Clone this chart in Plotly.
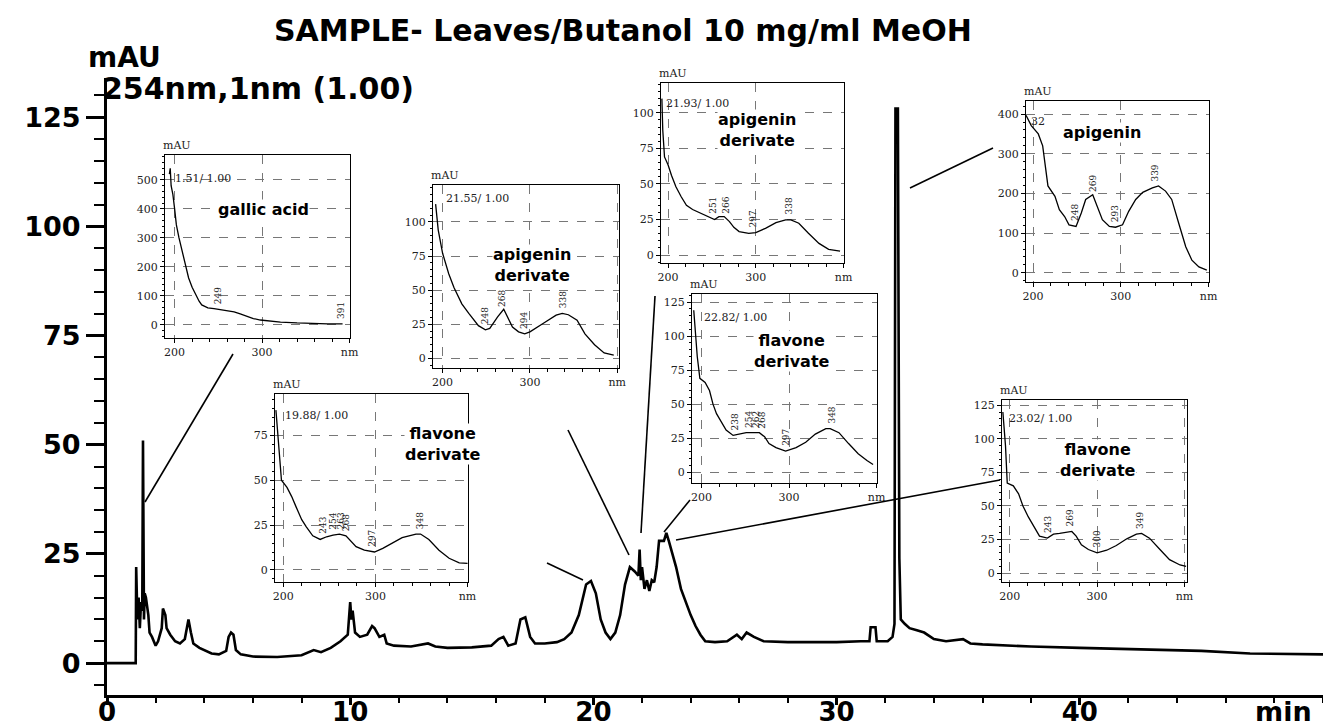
import numpy as np
import plotly.graph_objects as go

# ---------------- main chromatogram data ----------------
main_time = [0, 1.18, 1.2, 1.25, 1.3, 1.35, 1.4, 1.45, 1.48, 1.52, 1.55, 1.6, 1.7, 1.75, 1.85, 2.0, 2.1,
             2.25, 2.3, 2.4, 2.45, 2.6, 2.8, 3.0, 3.2, 3.3, 3.35, 3.45, 3.55, 3.8, 4.0, 4.3, 4.6, 4.9,
             5.0, 5.1, 5.2, 5.3, 5.5, 6.0, 7.0, 8.0, 8.5, 8.8, 9.2, 9.6, 9.9, 10.0, 10.05, 10.1, 10.2,
             10.4, 10.7, 10.9, 11.0, 11.2, 11.4, 11.5, 11.8, 12.5, 13.2, 13.5, 14.0, 15.0, 15.8, 16.1,
             16.3, 16.5, 16.8, 17.0, 17.2, 17.4, 17.6, 18.0, 18.5, 18.8, 19.1, 19.4, 19.7, 19.9, 20.1,
             20.3, 20.5, 20.7, 20.9, 21.1, 21.3, 21.5, 21.7, 21.85, 21.9, 21.95, 22.0, 22.1, 22.2, 22.3,
             22.4, 22.5, 22.6, 22.7, 22.9, 23.0, 23.1, 23.2, 23.4, 23.6, 23.8, 24.0, 24.2, 24.4, 24.6,
             25.0, 25.5, 25.9, 26.1, 26.3, 26.6, 27.0, 28.0, 29.0, 30.0, 31.0, 31.35, 31.4, 31.6, 31.65,
             32.1, 32.3, 32.38, 32.42, 32.52, 32.58, 32.64, 32.8, 33.0, 33.3, 33.6, 34.0, 34.5, 35.2,
             35.5, 36.0, 37.0, 38.0, 40.0, 43.0, 45.0, 47.0, 50.0]
main_mau = [0, 0, 22, 10, 15, 8, 14, 12, 51, 10, 16, 15, 11, 7, 6, 4, 5,
            8, 12.5, 11, 8, 6.5, 5, 4.5, 5.5, 8, 10, 7, 4.5, 3.5, 3, 2.2, 2, 2.8,
            6, 7, 6.5, 3, 2, 1.5, 1.4, 1.8, 3, 2.5, 3.5, 5, 6.5, 14, 10, 12, 7,
            6, 6.5, 8.5, 8, 6, 6.5, 4.5, 4, 3.8, 4.5, 3.8, 3.5, 3.6, 4, 5.5,
            6, 4, 4.5, 10, 10.5, 6, 4.5, 4.5, 4.8, 5.5, 7, 11, 18, 18.8, 16,
            10, 7, 5.5, 7, 11, 18, 22, 21, 20, 26, 19, 22, 17, 19, 16.5,
            19, 18.5, 22, 28, 28, 29.8, 28, 26, 22, 17, 14, 11, 8.5, 6.5, 5,
            4.8, 5, 6.5, 5.5, 7, 6, 5, 4.8, 4.8, 4.8, 5, 5, 8.2, 8.2, 5,
            5, 6, 9, 127, 127, 24, 10, 9, 8, 7.5, 7, 5.5, 5, 5.5,
            4.5, 4.3, 4, 3.8, 3.5, 3, 2.8, 2.2, 2.0]
main_x_ticks = [0, 10, 20, 30, 40]
main_y_ticks = [0, 25, 50, 75, 100, 125]

# ---------------- UV spectra (nm, mAU) ----------------
gallic_nm = [194, 195, 196, 198, 200, 202, 205, 209, 213, 216, 220, 224, 228, 231, 235, 238, 245, 253,
             260, 268, 275, 283, 290, 298, 310, 321, 340, 359, 375, 389, 392]
gallic_mau = [520, 540, 480, 450, 400, 345, 300, 252, 200, 162, 130, 103, 82, 69, 62, 59, 56, 52,
              50, 45, 38, 28, 22, 17, 13, 10, 7, 4, 4, 4, 4]
gallic_peaks = [249, 391]

api1_nm = [192, 195, 200, 207, 213, 222, 230, 241, 249, 254, 263, 270, 280, 287, 294, 300, 315, 330,
           337, 344, 354, 363, 374, 385, 396]
api1_mau = [113, 94, 77, 62, 52, 40, 33, 24, 21, 22, 30.5, 36, 23, 19.5, 18, 19.5, 25.6, 31.7,
            33, 32, 28, 18, 10, 4, 2.4]
api1_peaks = [248, 268, 294, 338]

api2_nm = [193, 194, 196, 200, 204, 209, 215, 221, 228, 238, 247, 253, 258, 264, 270, 275, 281, 292,
           300, 311, 323, 334, 340, 349, 360, 372, 383, 396]
api2_mau = [110, 88, 69, 63.5, 56, 48, 41, 35, 32, 29.4, 27, 25, 27, 27, 23.5, 19.5, 16.5, 15.3,
            15.8, 18.8, 22.8, 24.7, 24.7, 22.4, 15.3, 8.2, 4, 2.8]
api2_peaks = [251, 266, 297, 338]

apigenin_nm = [192, 198, 206, 211, 217, 225, 230, 236, 241, 249, 255, 260, 268, 274, 279, 287, 294, 302,
               309, 317, 325, 336, 343, 351, 358, 366, 374, 381, 389, 398]
apigenin_mau = [397, 371, 350, 320, 219, 193, 159, 142, 121, 117, 151, 185, 197, 164, 134, 117, 115, 121,
                155, 185, 203, 214, 219, 206, 185, 125, 66, 32, 15, 7]
apigenin_peaks = [248, 269, 293, 339]

flav1_nm = [192, 195, 198, 204, 209, 214, 220, 225, 232, 240, 247, 254, 261, 268, 274, 279, 288, 299,
            308, 319, 329, 344, 349, 358, 369, 380, 391, 400]
flav1_mau = [89, 68, 50, 46, 41, 35, 28, 24, 19, 17, 18.5, 19.4, 20, 19, 15.7, 13, 11, 10,
             12, 15, 18, 20, 20, 17, 11, 6.5, 4, 3.7]
flav1_peaks = [243, 254, 263, 268, 297, 348]

flav2_nm = [191, 192, 195, 198, 204, 209, 213, 217, 223, 228, 236, 243, 251, 258, 266, 272, 277, 285,
            296, 308, 319, 330, 342, 347, 357, 368, 379, 389, 396]
flav2_mau = [119, 109, 85, 69, 66, 60, 50, 43, 36, 31, 27, 28, 29, 29, 29, 26, 21, 18,
             15.4, 18, 22, 28, 32, 32, 29, 21, 13.5, 8.6, 5.6]
flav2_peaks = [238, 254, 262, 268, 297, 348]

flav3_nm = [192, 195, 197, 204, 210, 215, 221, 227, 234, 243, 250, 257, 264, 271, 276, 282, 290, 300,
            311, 322, 334, 345, 351, 360, 372, 383, 395, 402]
flav3_mau = [120, 95, 67, 65, 59, 50, 42, 35, 27.5, 26, 29, 29.5, 30, 31, 27.5, 21, 17.5, 15,
             17, 20.5, 25.5, 29, 29.5, 26, 17.5, 10, 6, 5]
flav3_peaks = [243, 269, 300, 349]

inset_x_ticks = [200, 300, 400]
inset_x_text = ["200", "300", "nm"]

# ---------------- layout geometry (pixels) ----------------
W, H = 1323, 727


def fx(px):
    return px / W


def fy(py):
    return 1 - py / H


insets = [
    dict(nm=gallic_nm, mau=gallic_mau, peaks=gallic_peaks, box=(165, 155, 350, 338), xr=[189, 400.5],
         yr=[-45, 586], yt=[0, 100, 200, 300, 400, 500], ym=20, rt="1.51/ 1.00", rtpos=(173, 178),
         name="gallic acid", namepos=(263, 210)),
    dict(nm=api1_nm, mau=api1_mau, peaks=api1_peaks, box=(433, 185, 619, 368), xr=[189, 402],
         yr=[-7, 127], yt=[0, 25, 50, 75, 100], ym=5, rt="21.55/ 1.00", rtpos=(444, 198),
         name="apigenin<br>derivate", namepos=(532, 265)),
    dict(nm=api2_nm, mau=api2_mau, peaks=api2_peaks, box=(661, 83, 844, 263), xr=[192, 400.5],
         yr=[-5.6, 121], yt=[0, 25, 50, 75, 100], ym=5, rt="21.93/ 1.00", rtpos=(664, 103),
         name="apigenin<br>derivate", namepos=(757, 130)),
    dict(nm=apigenin_nm, mau=apigenin_mau, peaks=apigenin_peaks, box=(1026, 101, 1209, 282), xr=[192, 400.5],
         yr=[-23, 433], yt=[0, 100, 200, 300, 400], ym=20, rt="32", rtpos=(1029, 121),
         name="apigenin", namepos=(1102, 133)),
    dict(nm=flav1_nm, mau=flav1_mau, peaks=flav1_peaks, box=(275, 394, 468, 582), xr=[191, 400.5],
         yr=[-6.7, 98], yt=[0, 25, 50, 75], ym=5, rt="19.88/ 1.00", rtpos=(283, 415),
         name="flavone<br>derivate", namepos=(443, 444)),
    dict(nm=flav2_nm, mau=flav2_mau, peaks=flav2_peaks, box=(692, 294, 877, 483), xr=[189, 400.5],
         yr=[-8, 131], yt=[0, 25, 50, 75, 100, 125], ym=5, rt="22.82/ 1.00", rtpos=(702, 317),
         name="flavone<br>derivate", namepos=(792, 351)),
    dict(nm=flav3_nm, mau=flav3_mau, peaks=flav3_peaks, box=(1002, 400, 1187, 582), xr=[191, 403],
         yr=[-6.7, 129], yt=[0, 25, 50, 75, 100, 125], ym=5, rt="23.02/ 1.00", rtpos=(1007, 418),
         name="flavone<br>derivate", namepos=(1098, 460)),
]

connectors = [((145, 502), (233, 354)), ((547, 563), (583, 580)), ((568, 430), (629, 555)),
              ((655, 296), (641, 533)), ((690, 500), (664, 532)), ((676, 540), (1000, 480)),
              ((910, 188), (993, 148))]

BOLD = dict(family="DejaVu Sans", color="black", weight="bold")
SERIF = "DejaVu Serif"

fig = go.Figure()
fig.add_trace(go.Scatter(x=main_time, y=main_mau, mode="lines", line=dict(color="black", width=2.6),
                         xaxis="x", yaxis="y", hoverinfo="skip", showlegend=False))

layout = dict(
    width=W, height=H, margin=dict(l=0, r=0, t=0, b=0, pad=0), autosize=False,
    paper_bgcolor="white", plot_bgcolor="white", showlegend=False,
    xaxis=dict(domain=[fx(107), 1], range=[0, 50], anchor="y", automargin=False, showline=True,
               linecolor="black", linewidth=3, ticks="outside", ticklen=7, tickwidth=2.5, tickcolor="black",
               tickvals=main_x_ticks, tickfont=dict(size=26, **BOLD), showgrid=False, zeroline=False,
               ticklabelstandoff=-15,
               minor=dict(ticks="outside", ticklen=5, tickwidth=2, tickcolor="black", dtick=2, tick0=0,
                          showgrid=False)),
    yaxis=dict(domain=[fy(695), fy(78)], range=[-7.3, 134], anchor="x", automargin=False, showline=True,
               linecolor="black", linewidth=3, ticks="outside", ticklen=18, tickwidth=2.5, tickcolor="black",
               tickvals=main_y_ticks, tickfont=dict(size=27, **BOLD), showgrid=False, zeroline=False,
               minor=dict(ticks="outside", ticklen=10, tickwidth=2, tickcolor="black", dtick=5, tick0=0,
                          showgrid=False)),
)

annotations = [
    dict(text="SAMPLE- Leaves/Butanol 10 mg/ml MeOH", x=fx(623), y=fy(30), font=dict(size=30, **BOLD)),
    dict(text="mAU", x=fx(86), y=fy(58), xanchor="left", font=dict(size=28, **BOLD)),
    dict(text="254nm,1nm (1.00)", x=fx(100), y=fy(88), xanchor="left", font=dict(size=30, **BOLD)),
    dict(text="min", x=fx(1283), y=fy(711), font=dict(size=27, **BOLD)),
]

shapes = []
for (x0, y0), (x1, y1) in connectors:
    shapes.append(dict(type="line", xref="paper", yref="paper", x0=fx(x0), y0=fy(y0), x1=fx(x1), y1=fy(y1),
                       line=dict(color="black", width=1.6)))

for i, ins in enumerate(insets, start=2):
    xa, ya = f"xaxis{i}", f"yaxis{i}"
    l, t, r, b = ins["box"]
    fig.add_trace(go.Scatter(x=ins["nm"], y=ins["mau"], mode="lines", line=dict(color="black", width=1.3),
                             xaxis=f"x{i}", yaxis=f"y{i}", hoverinfo="skip", showlegend=False))
    layout[xa] = dict(domain=[fx(l), fx(r)], range=ins["xr"], anchor=f"y{i}", automargin=False, showline=True,
                      mirror=True, linecolor="black", linewidth=1.3, ticks="outside", ticklen=4, tickcolor="black",
                      tickvals=inset_x_ticks, ticktext=inset_x_text,
                      tickfont=dict(family=SERIF, size=11, color="#222"),
                      showgrid=True, gridcolor="#777", griddash="dash", gridwidth=1, zeroline=False,
                      minor=dict(ticks="outside", ticklen=3, tickcolor="black", dtick=20, tick0=200,
                                 showgrid=False))
    layout[ya] = dict(domain=[fy(b), fy(t)], range=ins["yr"], anchor=f"x{i}", automargin=False, showline=True,
                      mirror=True, linecolor="black", linewidth=1.3, ticks="outside", ticklen=4, tickcolor="black",
                      tickvals=ins["yt"], tickfont=dict(family=SERIF, size=11, color="#222"),
                      showgrid=True, gridcolor="#777", griddash="dash", gridwidth=1, zeroline=False,
                      minor=dict(ticks="outside", ticklen=2, tickcolor="black", dtick=ins["ym"], tick0=0,
                                 showgrid=False))
    annotations.append(dict(text="mAU", x=fx(l - 4), y=fy(t - 1), xanchor="left", yanchor="bottom",
                            font=dict(family=SERIF, size=11, color="#222")))
    annotations.append(dict(text=ins["rt"], x=fx(ins["rtpos"][0]), y=fy(ins["rtpos"][1]), xanchor="left",
                            font=dict(family=SERIF, size=11, color="#222")))
    annotations.append(dict(text=ins["name"], x=fx(ins["namepos"][0]), y=fy(ins["namepos"][1]),
                            font=dict(size=16, **BOLD), bgcolor="white", borderpad=0))
    for p in ins["peaks"]:
        yv = float(np.interp(p, ins["nm"], ins["mau"]))
        annotations.append(dict(text=str(p), x=p, y=yv, xref=f"x{i}", yref=f"y{i}", textangle=-90,
                                xanchor="center", yanchor="bottom", yshift=3,
                                font=dict(family=SERIF, size=9, color="#222")))

for a in annotations:
    a.setdefault("xref", "paper")
    a.setdefault("yref", "paper")
    a.setdefault("showarrow", False)
    a.setdefault("xanchor", "center")
    a.setdefault("yanchor", "middle")

layout["annotations"] = annotations
layout["shapes"] = shapes
fig.update_layout(**layout)
fig.write_html("out.html")
